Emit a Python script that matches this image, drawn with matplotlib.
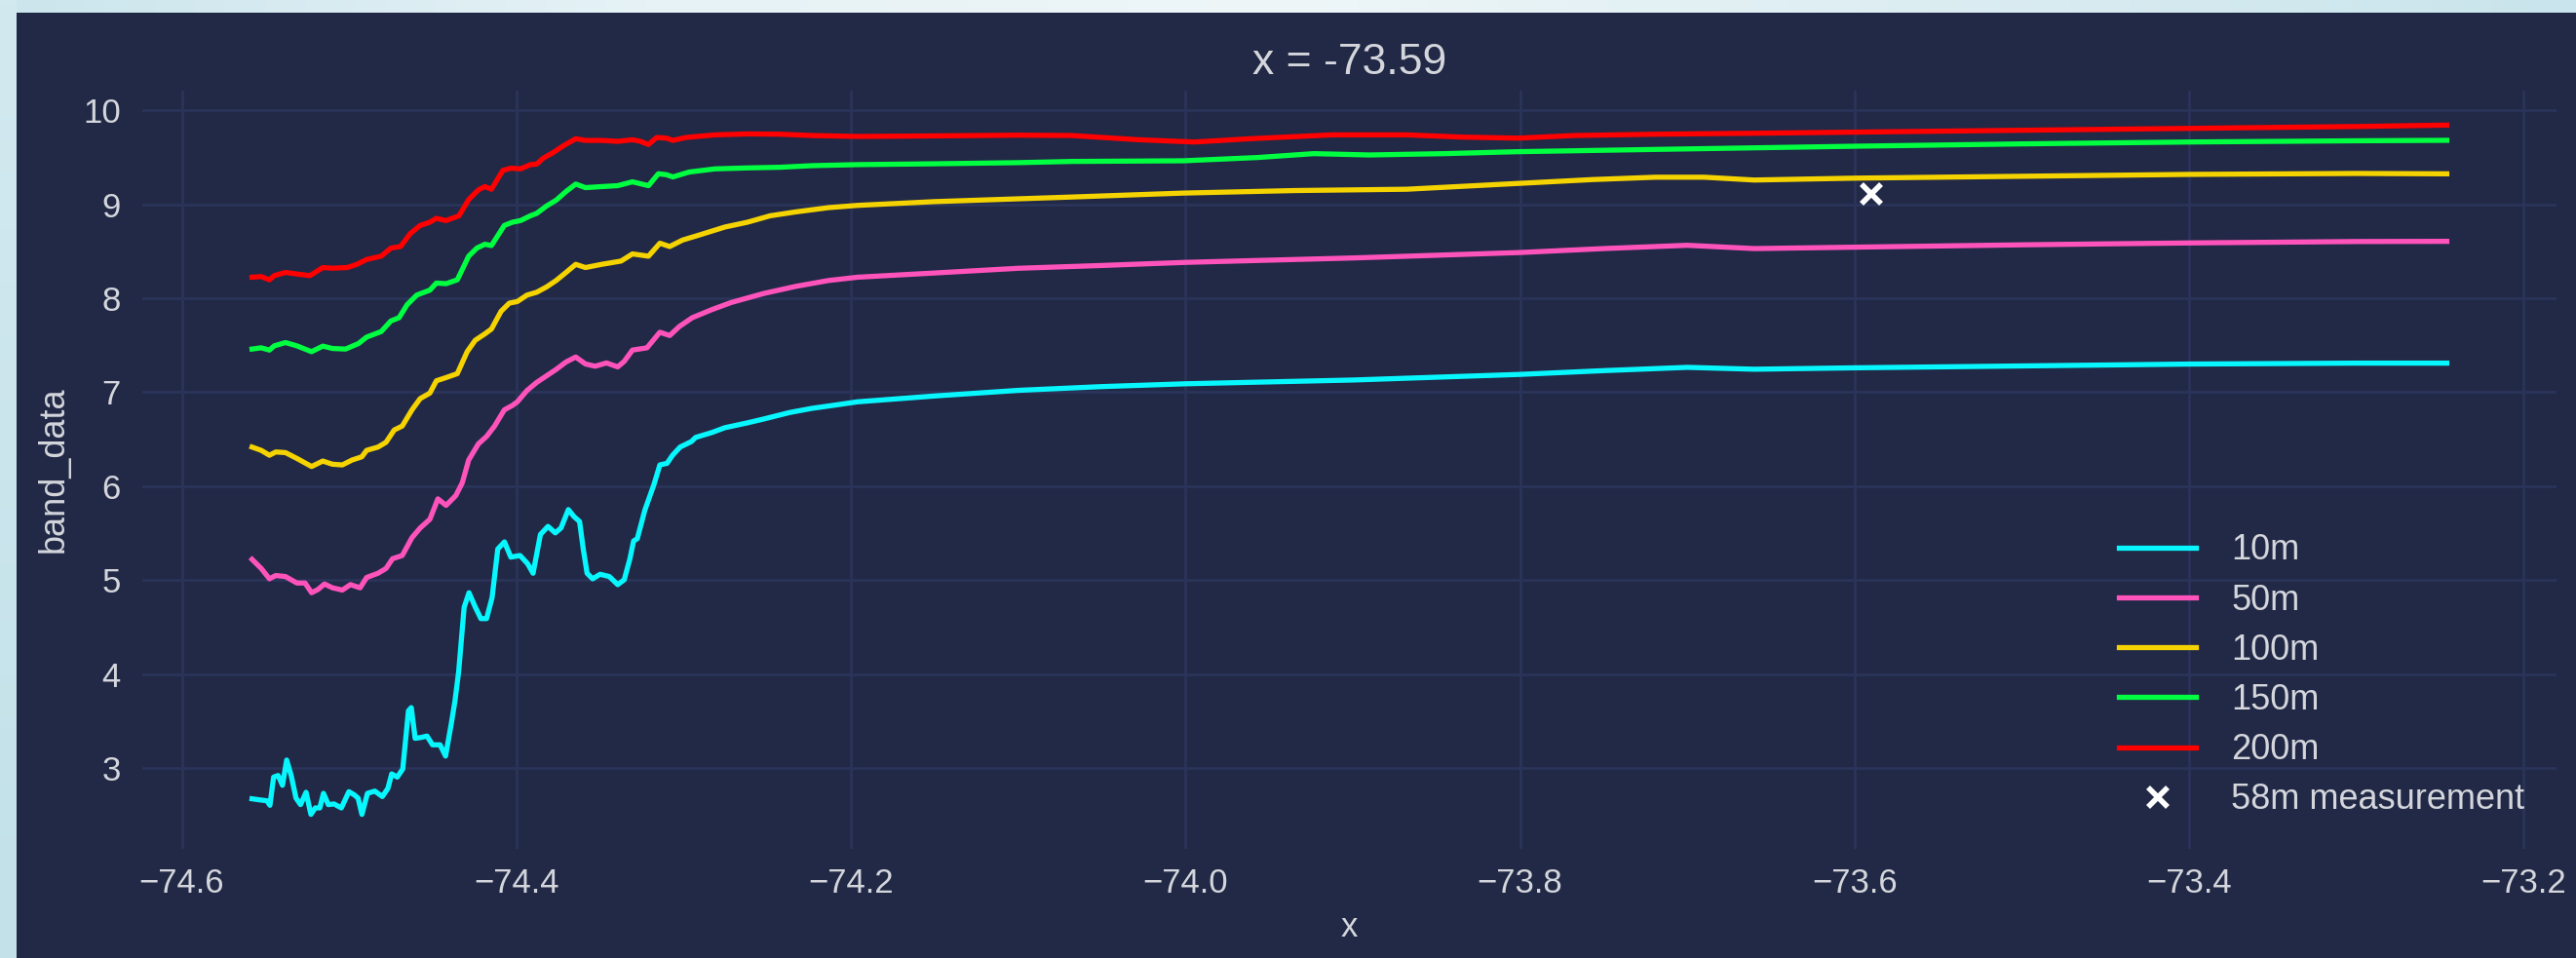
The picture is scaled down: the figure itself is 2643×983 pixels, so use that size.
import numpy as np
import matplotlib
matplotlib.use("Agg")
import matplotlib.pyplot as plt
from matplotlib.colors import LinearSegmentedColormap

plt.rcParams["font.family"] = ["Liberation Sans", "DejaVu Sans"]

# ---- band profiles along x, one per height ----
x_10m = [-74.558, -74.5536, -74.5491, -74.5473, -74.5451, -74.5424, -74.5398, -74.5373, -74.5346, -74.5317,
         -74.529, -74.5257, -74.5228, -74.5202, -74.5175, -74.5153, -74.5124, -74.509, -74.5046, -74.5001,
         -74.4968, -74.4946, -74.4923, -74.489, -74.4846, -74.4801, -74.4768, -74.4745, -74.4712, -74.4679,
         -74.4645, -74.4628, -74.4605, -74.4568, -74.4534, -74.4501, -74.4456, -74.4423, -74.4389, -74.4367,
         -74.4345, -74.4312, -74.4283, -74.4245, -74.4212, -74.4178, -74.4145, -74.4111, -74.4071, -74.4033,
         -74.3978, -74.3933, -74.39, -74.3856, -74.3811, -74.3767, -74.3733, -74.3689, -74.3655, -74.3622,
         -74.36, -74.3577, -74.3544, -74.3499, -74.3444, -74.3394, -74.3355, -74.3321, -74.3299, -74.3277,
         -74.3232, -74.3177, -74.3142, -74.3099, -74.3066, -74.3021, -74.2954, -74.2928, -74.2831, -74.2754,
         -74.2618, -74.2521, -74.2366, -74.2231, -74.2095, -74.196, -74.15, -74.1, -74.05, -74.0,
         -73.9, -73.8, -73.75, -73.7, -73.66, -73.6, -73.5, -73.4, -73.3, -73.246]
y_10m = [2.670, 2.659, 2.649, 2.601, 2.901, 2.918, 2.814, 3.083, 2.918, 2.677,
         2.608, 2.739, 2.504, 2.573, 2.573, 2.728, 2.608, 2.615, 2.573, 2.746,
         2.711, 2.677, 2.504, 2.728, 2.752, 2.694, 2.780, 2.935, 2.901, 2.987,
         3.607, 3.641, 3.314, 3.324, 3.338, 3.245, 3.245, 3.125, 3.469, 3.710,
         4.021, 4.710, 4.865, 4.710, 4.589, 4.589, 4.813, 5.330, 5.406, 5.244,
         5.261, 5.175, 5.072, 5.485, 5.571, 5.502, 5.554, 5.750, 5.675, 5.623,
         5.330, 5.072, 5.013, 5.061, 5.037, 4.951, 5.003, 5.227, 5.416, 5.440,
         5.743, 6.019, 6.226, 6.243, 6.329, 6.416, 6.474, 6.519, 6.571, 6.622,
         6.674, 6.715, 6.784, 6.829, 6.863, 6.898, 6.96, 7.02, 7.06, 7.09,
         7.13, 7.19, 7.23, 7.265, 7.245, 7.26, 7.28, 7.30, 7.31, 7.310]

x_50m = [-74.558, -74.5525, -74.5476, -74.5438, -74.538, -74.5312, -74.5263, -74.5224, -74.5186, -74.5147,
         -74.5099, -74.504, -74.4992, -74.4934, -74.4895, -74.4827, -74.4779, -74.474, -74.4682, -74.4624,
         -74.4575, -74.4517, -74.4469, -74.442, -74.4362, -74.4323, -74.4285, -74.4227, -74.4178, -74.413,
         -74.4072, -74.4023, -74.3994, -74.3936, -74.3878, -74.382, -74.3762, -74.3703, -74.3645, -74.3587,
         -74.3529, -74.3461, -74.3394, -74.3355, -74.3306, -74.3219, -74.3142, -74.3083, -74.3025, -74.2948,
         -74.2831, -74.2715, -74.2521, -74.2328, -74.2134, -74.196, -74.15, -74.1, -74.05, -74.0,
         -73.9, -73.8, -73.75, -73.7, -73.66, -73.6, -73.5, -73.4, -73.3, -73.246]
y_50m = [5.220, 5.123, 5.013, 5.048, 5.037, 4.968, 4.968, 4.865, 4.899, 4.958,
         4.917, 4.893, 4.951, 4.917, 5.027, 5.072, 5.123, 5.227, 5.261, 5.451,
         5.554, 5.647, 5.864, 5.795, 5.899, 6.036, 6.278, 6.450, 6.529, 6.640,
         6.812, 6.860, 6.898, 7.019, 7.105, 7.174, 7.243, 7.322, 7.375, 7.301,
         7.277, 7.312, 7.270, 7.329, 7.449, 7.473, 7.639, 7.604, 7.701, 7.794,
         7.880, 7.956, 8.052, 8.128, 8.190, 8.225, 8.27, 8.32, 8.35, 8.383,
         8.43, 8.488, 8.53, 8.565, 8.53, 8.545, 8.57, 8.59, 8.605, 8.607]

x_100m = [-74.558, -74.5525, -74.5476, -74.5438, -74.538, -74.5312, -74.5224, -74.5157, -74.5099, -74.504,
          -74.4982, -74.4924, -74.4895, -74.4827, -74.4779, -74.473, -74.4682, -74.4624, -74.4575, -74.4517,
          -74.4478, -74.442, -74.4353, -74.4294, -74.4246, -74.4188, -74.4149, -74.4091, -74.4042, -74.3994,
          -74.3936, -74.3878, -74.382, -74.3762, -74.3703, -74.3645, -74.3587, -74.349, -74.3374, -74.3306,
          -74.321, -74.3142, -74.3083, -74.3006, -74.2909, -74.2754, -74.2618, -74.2483, -74.2328, -74.2134,
          -74.196, -74.15, -74.1, -74.068, -74.0013, -73.9345, -73.8677, -73.801, -73.7565, -73.719,
          -73.69, -73.66, -73.6, -73.5, -73.4, -73.3, -73.246]
y_100m = [6.416, 6.381, 6.329, 6.364, 6.357, 6.295, 6.209, 6.267, 6.233, 6.226,
          6.278, 6.312, 6.381, 6.416, 6.467, 6.598, 6.640, 6.812, 6.932, 6.991,
          7.122, 7.156, 7.198, 7.432, 7.553, 7.622, 7.673, 7.863, 7.949, 7.966,
          8.035, 8.065, 8.121, 8.190, 8.276, 8.362, 8.328, 8.362, 8.397, 8.473,
          8.449, 8.587, 8.552, 8.621, 8.673, 8.759, 8.811, 8.879, 8.921, 8.966,
          8.990, 9.03, 9.06, 9.079, 9.121, 9.148, 9.162, 9.224, 9.265, 9.29,
          9.29, 9.26, 9.28, 9.30, 9.32, 9.33, 9.326]

x_150m = [-74.558, -74.5525, -74.5476, -74.5447, -74.538, -74.5312, -74.5224, -74.5157, -74.5099, -74.5021,
          -74.4944, -74.4895, -74.4808, -74.475, -74.4701, -74.4653, -74.4595, -74.4517, -74.4478, -74.442,
          -74.4353, -74.4285, -74.4236, -74.4188, -74.4149, -74.4072, -74.4023, -74.3975, -74.3916, -74.3878,
          -74.382, -74.3762, -74.3703, -74.3645, -74.3587, -74.349, -74.3394, -74.3306, -74.321, -74.3151,
          -74.3103, -74.3064, -74.2967, -74.2812, -74.2618, -74.2424, -74.2231, -74.196, -74.15, -74.1,
          -74.068, -74.0013, -73.9567, -73.9234, -73.89, -73.8455, -73.801, -73.719, -73.6, -73.5,
          -73.4, -73.3, -73.246]
y_150m = [7.460, 7.473, 7.449, 7.494, 7.529, 7.494, 7.432, 7.491, 7.466, 7.460,
          7.518, 7.587, 7.646, 7.759, 7.794, 7.932, 8.035, 8.087, 8.163, 8.156,
          8.197, 8.449, 8.535, 8.576, 8.562, 8.776, 8.811, 8.828, 8.879, 8.905,
          8.983, 9.045, 9.138, 9.217, 9.179, 9.190, 9.200, 9.241, 9.200, 9.327,
          9.317, 9.293, 9.345, 9.379, 9.389, 9.396, 9.413, 9.424, 9.433, 9.445,
          9.458, 9.465, 9.500, 9.541, 9.527, 9.541, 9.562, 9.586, 9.62, 9.645,
          9.665, 9.678, 9.683]

x_200m = [-74.558, -74.5525, -74.5476, -74.5447, -74.538, -74.5312, -74.5234, -74.5157, -74.5099, -74.5011,
          -74.4953, -74.4895, -74.4808, -74.475, -74.4692, -74.4634, -74.4575, -74.4517, -74.4478, -74.442,
          -74.4343, -74.4285, -74.4227, -74.4188, -74.4149, -74.4081, -74.4033, -74.3975, -74.3916, -74.3878,
          -74.3839, -74.3781, -74.3723, -74.3645, -74.3587, -74.349, -74.3394, -74.3306, -74.3258, -74.321,
          -74.3161, -74.3103, -74.3064, -74.2986, -74.2812, -74.2618, -74.2424, -74.2231, -74.196, -74.15,
          -74.1, -74.068, -74.028, -73.9946, -73.9612, -73.9122, -73.8677, -73.8344, -73.801, -73.7676,
          -73.719, -73.65, -73.6, -73.5, -73.4, -73.3, -73.246]
y_200m = [8.225, 8.232, 8.197, 8.242, 8.276, 8.259, 8.242, 8.328, 8.321, 8.328,
          8.362, 8.414, 8.449, 8.535, 8.552, 8.690, 8.776, 8.811, 8.852, 8.828,
          8.879, 9.052, 9.155, 9.190, 9.162, 9.362, 9.386, 9.379, 9.424, 9.430,
          9.493, 9.551, 9.620, 9.700, 9.682, 9.682, 9.672, 9.689, 9.672, 9.638,
          9.713, 9.706, 9.682, 9.713, 9.741, 9.751, 9.748, 9.734, 9.724, 9.730,
          9.738, 9.734, 9.689, 9.665, 9.700, 9.741, 9.741, 9.717, 9.706, 9.734,
          9.748, 9.760, 9.770, 9.790, 9.810, 9.830, 9.845]

series_labels = ["10m", "50m", "100m", "150m", "200m"]
series_colors = ["#08F7FE", "#FE53BB", "#F5D300", "#00ff41", "#ff0000"]

meas_x = -73.59
meas_y = 9.11
meas_label = "58m measurement"

x_ticks = [-74.6, -74.4, -74.2, -74.0, -73.8, -73.6, -73.4, -73.2]
y_ticks = [3, 4, 5, 6, 7, 8, 9, 10]

BG = "#212946"
GRID = "#2A3459"
TEXT = "#d4d6dc"

W, H = 2643, 983
fig = plt.figure(figsize=(W / 100, H / 100), dpi=100, facecolor=BG)

# light page border along the top and left edges
top_cmap = LinearSegmentedColormap.from_list("top", ["#cbe5ed", "#e6f2f6", "#eef6f8", "#dcedf2", "#c9e4ec"])
left_cmap = LinearSegmentedColormap.from_list("left", ["#d3e9f0", "#c2e1e9"])
ax_top = fig.add_axes([0, 1 - 13 / H, 1, 13 / H])
ax_top.imshow(np.linspace(0, 1, 256)[None, :], cmap=top_cmap, aspect="auto", interpolation="bilinear")
ax_top.set_axis_off()
ax_left = fig.add_axes([0, 0, 17 / W, 1])
ax_left.imshow(np.linspace(0, 1, 256)[:, None], cmap=left_cmap, aspect="auto", interpolation="bilinear")
ax_left.set_axis_off()

ax = fig.add_axes([146 / W, 1 - 871 / H, (2623 - 146) / W, (871 - 93) / H])
ax.set_facecolor(BG)
for s in ax.spines.values():
    s.set_visible(False)

series_x = [x_10m, x_50m, x_100m, x_150m, x_200m]
series_y = [y_10m, y_50m, y_100m, y_150m, y_200m]
for xs, ys, lab, col in zip(series_x, series_y, series_labels, series_colors):
    ax.plot(xs, ys, color=col, lw=3.8, label=lab, solid_joinstyle="round")

ax.plot([meas_x], [meas_y], linestyle="none", marker="x", color="white",
        markersize=15, markeredgewidth=4, label=meas_label)

ax.set_xticks(x_ticks)
ax.set_yticks(y_ticks)
ax.grid(True, color=GRID, linewidth=2)
ax.set_axisbelow(True)
ax.tick_params(axis="both", length=0, labelsize=25, colors=TEXT)
ax.tick_params(axis="x", pad=14)
ax.tick_params(axis="y", pad=16)

ax.set_xlabel("x", fontsize=25, color=TEXT, labelpad=8)
ax.set_ylabel("band_data", fontsize=26, color=TEXT, labelpad=9)
ax.set_title("x = -73.59", fontsize=32, color=TEXT, pad=12)

leg = ax.legend(loc="lower right", frameon=False, fontsize=26, labelcolor=TEXT,
                handlelength=2.2, handletextpad=1.0, labelspacing=0.45)

fig.savefig("out.png", dpi=100, facecolor=BG)
